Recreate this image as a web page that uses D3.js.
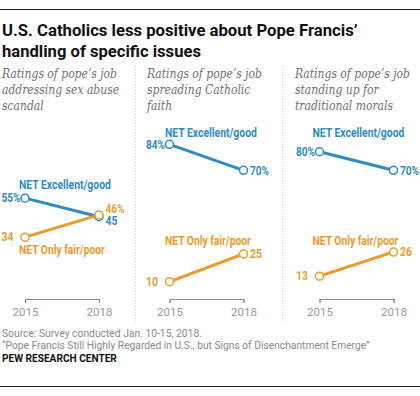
<!DOCTYPE html>
<html>
<head>
<meta charset="utf-8">
<script src="https://cdn.jsdelivr.net/npm/d3@7"></script>
<style>
  body { margin: 0; background: #fff; }
  svg { display: block; }
</style>
</head>
<body>
<div id="chart"></div>
<script>
// data
const years = ['2015', '2018']
const panelTitles = [
  ['Ratings of pope\u2019s job', 'addressing sex abuse', 'scandal'],
  ['Ratings of pope\u2019s job', 'spreading Catholic', 'faith'],
  ['Ratings of pope\u2019s job', 'standing up for', 'traditional morals']
]
const excellent = [[55, 45], [84, 70], [80, 70]]
const onlyFair = [[34, 46], [10, 25], [13, 26]]
const seriesNames = ['NET Excellent/good', 'NET Only fair/poor']

const width = 420
const height = 396
const blue = '#2f8bc5'
const orange = '#ec9a2c'
const sans = 'Roboto, "Liberation Sans", sans-serif'
const serif = '"DejaVu Serif", "Liberation Serif", serif'

// layout
const colX = [2, 147, 295]
const plotX = [25, 169.5, 319.5]
const plotW = 74
// label anchors for the series names (left x, text center y)
const exLabel = [[19, 184], [165, 132], [312.5, 132]]
const fairLabel = [[19, 249], [165, 240.5], [312.5, 240.5]]

const svg = d3.select('#chart').append('svg')
  .attr('width', width)
  .attr('height', height)

// squeeze text horizontally to a measured width (narrow Franklin-like face)
function fit(sel, w) {
  const natural = sel.node().getComputedTextLength()
  const x = +sel.attr('x'), y = +sel.attr('y')
  sel.attr('x', 0).attr('y', 0)
    .attr('transform', `translate(${x},${y}) scale(${w / natural},1)`)
  return sel
}

// rules
svg.append('line').attr('x1', 0).attr('x2', width).attr('y1', 9.5).attr('y2', 9.5)
  .style('stroke', '#222').style('stroke-width', 1)
svg.append('line').attr('x1', 0).attr('x2', width).attr('y1', 386.5).attr('y2', 386.5)
  .style('stroke', '#222').style('stroke-width', 1)

// title
const titleLines = ['U.S. Catholics less positive about Pope Francis\u2019', 'handling of specific issues']
const titleW = [356, 199]
titleLines.forEach((t, i) => {
  fit(svg.append('text')
    .attr('x', 2)
    .attr('y', 36 + i * 20.5)
    .style('font-family', sans)
    .style('font-weight', 'bold')
    .style('font-size', '17px')
    .style('fill', '#111')
    .text(t), titleW[i])
})

// separators
;[135.5, 282.5].forEach(x => {
  svg.append('line')
    .attr('x1', x).attr('x2', x)
    .attr('y1', 66).attr('y2', 322)
    .style('stroke', '#ccc')
    .style('stroke-width', 1)
    .style('stroke-dasharray', '1,2')
})

const y = d3.scaleLinear().domain([0, 100]).range([300.3, 114.6])

panelTitles.forEach((lines, p) => {
  // subtitle, narrowed so the first line is 115px wide like the original
  const subs = lines.map((t, i) => svg.append('text')
    .attr('x', colX[p])
    .attr('y', 77.5 + i * 16.3)
    .style('font-family', serif)
    .style('font-style', 'italic')
    .style('font-size', '12.8px')
    .style('fill', '#707070')
    .text(t))
  const ratio = 115 / subs[0].node().getComputedTextLength()
  subs.forEach(s => fit(s, s.node().getComputedTextLength() * ratio))

  const x = d3.scalePoint().domain(years).range([plotX[p], plotX[p] + plotW])

  const g = svg.append('g').attr('class', 'panel')

  // axis
  const ax = g.append('g')
    .attr('transform', 'translate(0,299)')
    .call(d3.axisBottom(x).tickSize(4).tickPadding(5))
  ax.select('.domain').style('stroke', '#888')
  ax.selectAll('.tick line').style('stroke', '#888')
  ax.selectAll('.tick text')
    .style('font-family', sans)
    .style('font-size', '11.5px')
    .style('fill', '#9a9a9a')

  const series = [
    { vals: excellent[p], color: blue },
    { vals: onlyFair[p], color: orange }
  ]

  const line = d3.line().x((d, i) => x(years[i])).y(d => y(d))

  series.forEach(s => {
    g.append('path')
      .datum(s.vals)
      .attr('d', line)
      .style('fill', 'none')
      .style('stroke', s.color)
      .style('stroke-width', 3)
  })
  series.forEach(s => {
    g.selectAll(null)
      .data(s.vals)
      .enter().append('circle')
      .attr('cx', (d, i) => x(years[i]))
      .attr('cy', d => y(d))
      .attr('r', 4)
      .style('fill', '#fff')
      .style('stroke', s.color)
      .style('stroke-width', 1.5)
  })

  // value labels (top value in each year carries the % sign)
  series.forEach((s, si) => {
    const other = series[1 - si].vals
    s.vals.forEach((v, i) => {
      const top = v >= other[i]
      const label = top ? v + '%' : String(v)
      let dy = 4.3
      if (Math.abs(v - other[i]) < 5) dy = top ? -1.5 : 8.2
      // digits line up as if the % were there
      const gap = i === 0 ? (top ? 4.5 : 11.5) : 6.5
      fit(g.append('text')
        .attr('x', i === 0 ? x(years[i]) - gap : x(years[i]) + gap)
        .attr('y', y(v) + dy)
        .attr('text-anchor', i === 0 ? 'end' : 'start')
        .style('font-family', sans)
        .style('font-weight', 'bold')
        .style('font-size', '12px')
        .style('fill', s.color)
        .text(label), String(v).length * 6 + (top ? 7 : 0))
    })
  })

  // series names
  fit(g.append('text')
    .attr('x', exLabel[p][0])
    .attr('y', exLabel[p][1] + 4.5)
    .style('font-family', sans)
    .style('font-weight', 'bold')
    .style('font-size', '12.5px')
    .style('fill', blue)
    .text(seriesNames[0]), 92)
  fit(g.append('text')
    .attr('x', fairLabel[p][0])
    .attr('y', fairLabel[p][1] + 4.5)
    .style('font-family', sans)
    .style('font-weight', 'bold')
    .style('font-size', '12.5px')
    .style('fill', orange)
    .text(seriesNames[1]), 86)
})

// footer
const notes = [
  'Source: Survey conducted Jan. 10-15, 2018.',
  '\u201cPope Francis Still Highly Regarded in U.S., but Signs of Disenchantment Emerge\u201d'
]
const noteW = [200, 368]
notes.forEach((t, i) => {
  fit(svg.append('text')
    .attr('x', 2)
    .attr('y', 336.5 + i * 12.5)
    .style('font-family', sans)
    .style('font-size', '11px')
    .style('fill', '#8a8a8a')
    .text(t), noteW[i])
})
fit(svg.append('text')
  .attr('x', 2)
  .attr('y', 362)
  .style('font-family', sans)
  .style('font-weight', 'bold')
  .style('font-size', '10.5px')
  .style('fill', '#111')
  .text('PEW RESEARCH CENTER'), 115)
</script>
</body>
</html>
